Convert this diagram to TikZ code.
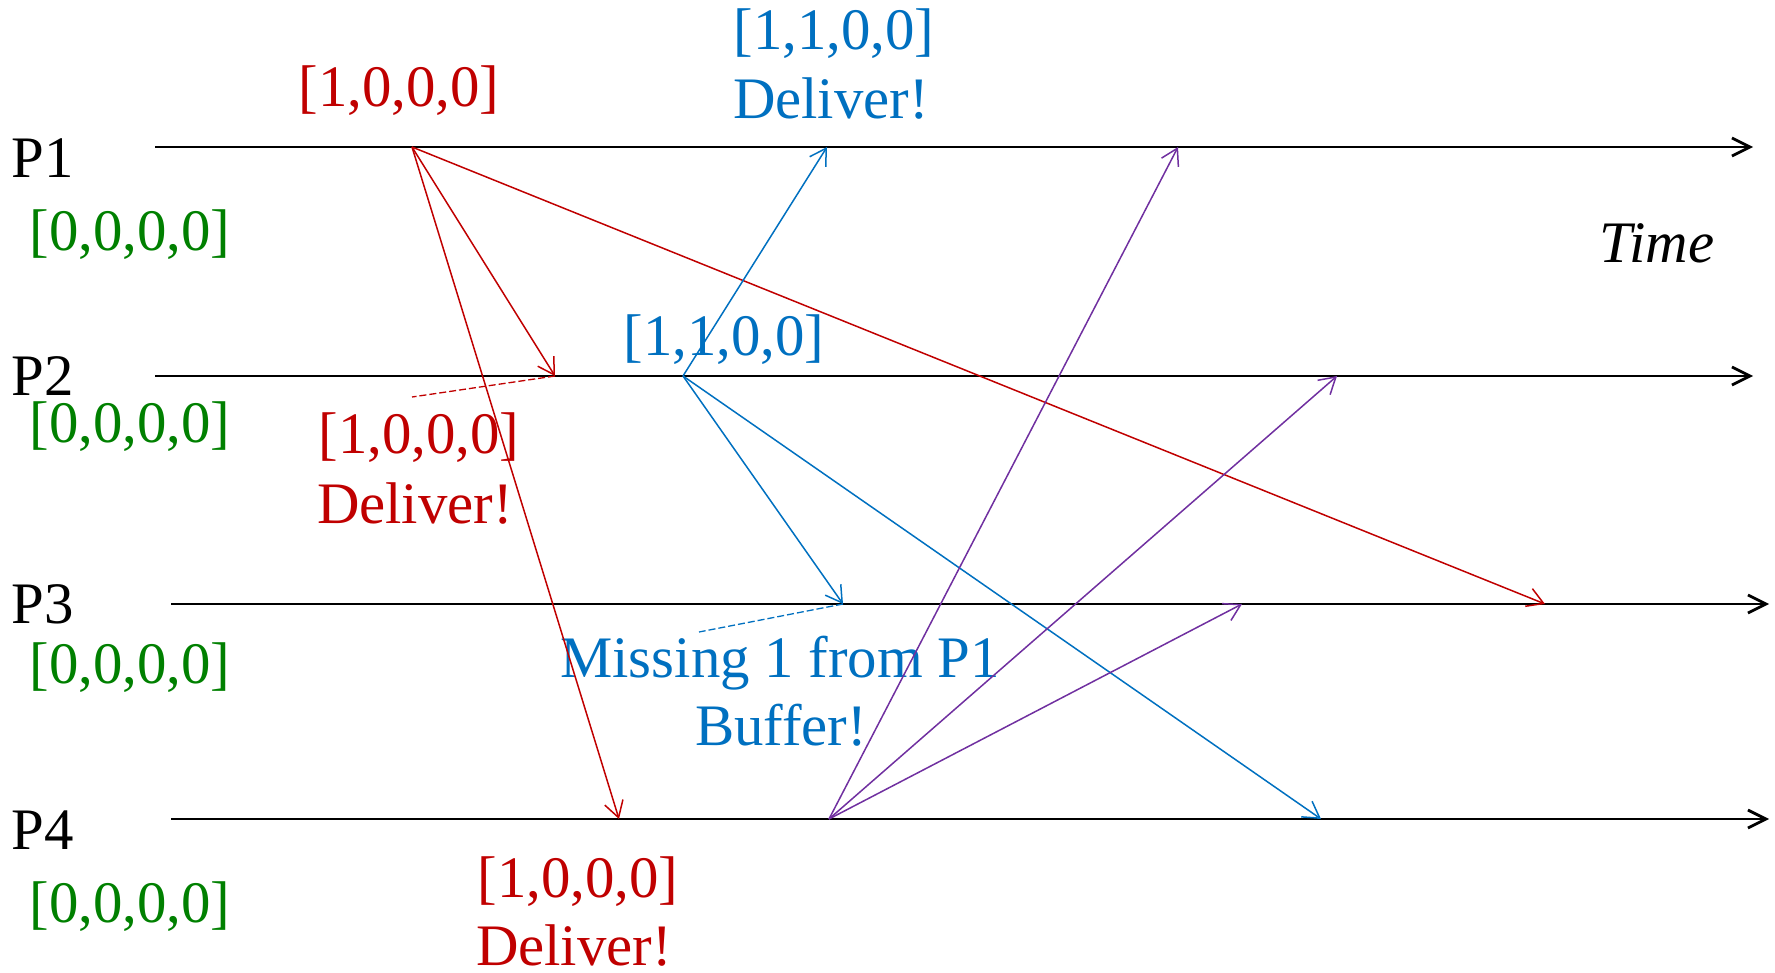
\documentclass[tikz,border=0pt]{standalone}
\usepackage{fontspec}
\setmainfont{Liberation Serif}
\usetikzlibrary{arrows.meta}
\definecolor{msgred}{HTML}{C00000}
\definecolor{msgblue}{HTML}{0070C0}
\definecolor{vcgreen}{HTML}{008000}
\definecolor{msgpurple}{HTML}{7030A0}
\begin{document}
\begin{tikzpicture}[x=0.5pt,y=-0.5pt,
    font=\fontsize{29.4}{35}\selectfont,
    axis/.style={black,line width=1.4pt,-{Straight Barb[length=9pt,width=9pt]}},
    msg/.style={line width=0.75pt,-{Straight Barb[length=8pt,width=9.5pt]}},
    note/.style={line width=0.65pt,dash pattern=on 3.5pt off 1.5pt},
    txt/.style={inner sep=0pt,anchor=base}]
      \useasboundingbox (0,0) rectangle (1775,973);
      % time lines of the four processes
      \coordinate (a1) at (155,147);
      \coordinate (b1) at (1753,147);
      \coordinate (a2) at (155,376);
      \coordinate (b2) at (1753,376);
      \coordinate (a3) at (171,604);
      \coordinate (b3) at (1769,604);
      \coordinate (a4) at (171,819);
      \coordinate (b4) at (1769,819);
      \draw[axis] (a1) -- (b1);
      \draw[axis] (a2) -- (b2);
      \draw[axis] (a3) -- (b3);
      \draw[axis] (a4) -- (b4);
      \node[txt] (p1) at (43,178) {P1};
      \node[txt] (p2) at (43,395) {P2};
      \node[txt] (p3) at (43,623) {P3};
      \node[txt] (p4) at (43,849) {P4};
      \node[txt,vcgreen] (v1) at (130,250) {[0,0,0,0]};
      \node[txt,vcgreen] (v2) at (130,442) {[0,0,0,0]};
      \node[txt,vcgreen] (v3) at (130,683) {[0,0,0,0]};
      \node[txt,vcgreen] (v4) at (130,922) {[0,0,0,0]};
      \node[txt,font=\fontsize{29.4}{35}\selectfont\itshape] (time) at (1657,263) {Time};
      % send and receive events
      \coordinate (s1) at (412,147);
      \coordinate (r12) at (555,376);
      \coordinate (r13) at (1545,604);
      \coordinate (r14) at (619,819);
      \coordinate (s2) at (683,376);
      \coordinate (r21) at (827,147);
      \coordinate (r23) at (843,604);
      \coordinate (r24) at (1321,819);
      \coordinate (s4) at (829,819);
      \coordinate (r41) at (1178,147);
      \coordinate (r42) at (1337,376);
      \coordinate (r43) at (1242,604);
      \coordinate (n2) at (412,397);
      \coordinate (n3) at (699,632);
      % labels
      \node[txt,msgred] (t1) at (399,107) {[1,0,0,0]};
      \node[txt,msgred] (t2) at (419,453) {[1,0,0,0]};
      \node[txt,msgred] (d2) at (415,523) {Deliver!};
      \node[txt,msgred] (t4) at (578,897) {[1,0,0,0]};
      \node[txt,msgred] (d4) at (574,965) {Deliver!};
      \node[txt,msgblue] (u2) at (724,355) {[1,1,0,0]};
      \node[txt,msgblue] (u1) at (834,50) {[1,1,0,0]};
      \node[txt,msgblue] (e1) at (831,119) {Deliver!};
      \node[txt,msgblue] (m3) at (780,677) {Missing 1 from P1};
      \node[txt,msgblue] (f3) at (781,745) {Buffer!};
      % messages
      \draw[msg,msgred] (s1) -- (r12);
      \draw[msg,msgred] (s1) -- (r13);
      \draw[msg,msgred] (s1) -- (r14);
      \draw[note,msgred] (r12) -- (n2);
      \draw[msg,msgblue] (s2) -- (r21);
      \draw[msg,msgblue] (s2) -- (r23);
      \draw[msg,msgblue] (s2) -- (r24);
      \draw[note,msgblue] (r23) -- (n3);
      \draw[msg,msgpurple] (s4) -- (r41);
      \draw[msg,msgpurple] (s4) -- (r42);
      \draw[msg,msgpurple] (s4) -- (r43);
\end{tikzpicture}
\end{document}
